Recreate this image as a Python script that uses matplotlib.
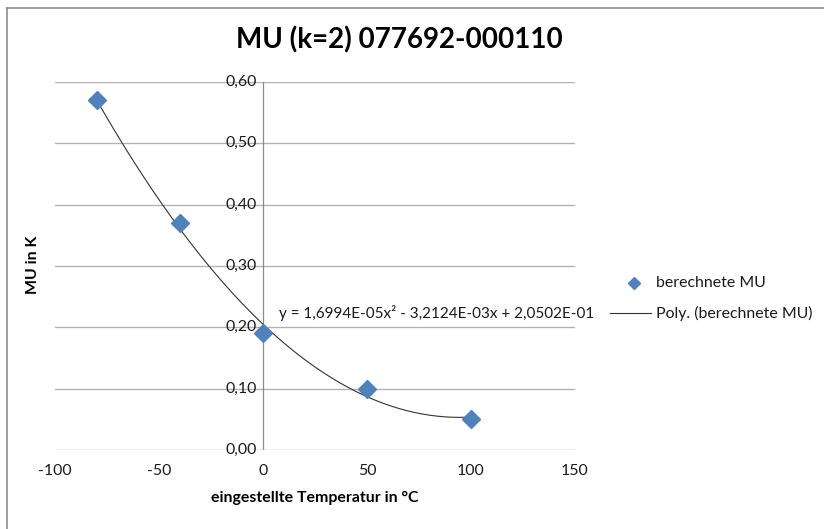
import numpy as np
import matplotlib
matplotlib.use("Agg")
import matplotlib.pyplot as plt
from matplotlib.lines import Line2D

plt.rcParams['font.family'] = ['Lato', 'DejaVu Sans']

# Data
temps = [-80, -40, 0, 50, 100]
mu = [0.57, 0.37, 0.19, 0.10, 0.05]
coef = [1.6994e-05, -3.2124e-03, 2.0502e-01]
title = "MU (k=2) 077692-000110"
eq_text = "y = 1,6994E-05x² - 3,2124E-03x + 2,0502E-01"
xticks = [-100, -50, 0, 50, 100, 150]
yticks = [0.0, 0.1, 0.2, 0.3, 0.4, 0.5, 0.6]

W, H = 824, 529
fig = plt.figure(figsize=(W/100, H/100), dpi=100)
ax = fig.add_axes([55/W, 1-450/H, (575-55)/W, (450-82)/H])

grid_c = '#b3b3b3'
tc = '#1a1a1a'
fs = 11.4
ax.set_xlim(-100, 150)
ax.set_ylim(0, 0.6)
for s in ax.spines.values():
    s.set_visible(False)
for y in yticks:
    ax.axhline(y, color=grid_c, lw=1.0, zorder=1)
ax.axvline(0, color='#8c8c8c', lw=0.9, zorder=1)

xs = np.linspace(min(temps), max(temps), 200)
ax.plot(xs, np.polyval(coef, xs), color='#333333', lw=0.8, zorder=2)
ax.plot(temps, mu, linestyle='none', marker='D', markersize=9.5,
        color='#4F81BD', zorder=3)

ax.set_xticks(xticks)
ax.set_xticklabels([str(t) for t in xticks], fontsize=fs, color=tc)
ax.set_yticks([])
ax.tick_params(axis='x', length=0, pad=10)
for y in yticks:
    ax.text(-3, y, f"{y:.2f}".replace('.', ','), ha='right', va='center',
            fontsize=fs, color=tc)

ax.set_xlabel("eingestellte Temperatur in °C", fontsize=fs, fontweight='bold', labelpad=9)
fig.text(33/W, 1-265/H, "MU in K", rotation=90, ha='center', va='center',
         fontsize=fs, fontweight='bold')

fig.text(399/W, 1-40/H, title, ha='center', va='center', fontsize=20, fontweight='bold')

fig.text(279/W, 1-313/H, eq_text, ha='left', va='center', fontsize=11, color=tc)

# legend
fig.add_artist(Line2D([634/W], [1-283/H], marker='D', markersize=6.5, color='#4F81BD',
                      linestyle='none', transform=fig.transFigure))
fig.text(656/W, 1-283/H, "berechnete MU", ha='left', va='center', fontsize=fs, color=tc)
fig.add_artist(Line2D([610/W, 651/W], [1-313/H, 1-313/H], color='#333333', lw=0.8,
                      transform=fig.transFigure))
fig.text(656/W, 1-313/H, "Poly. (berechnete MU)", ha='left', va='center', fontsize=fs, color=tc)

# chart border
bc = '#8c8c8c'
fig.add_artist(Line2D([7/W, 7/W], [0, 1-8/H], color=bc, lw=1.2, transform=fig.transFigure))
fig.add_artist(Line2D([7/W, 1], [1-8/H, 1-8/H], color=bc, lw=1.2, transform=fig.transFigure))

fig.savefig("out.png", dpi=100)
